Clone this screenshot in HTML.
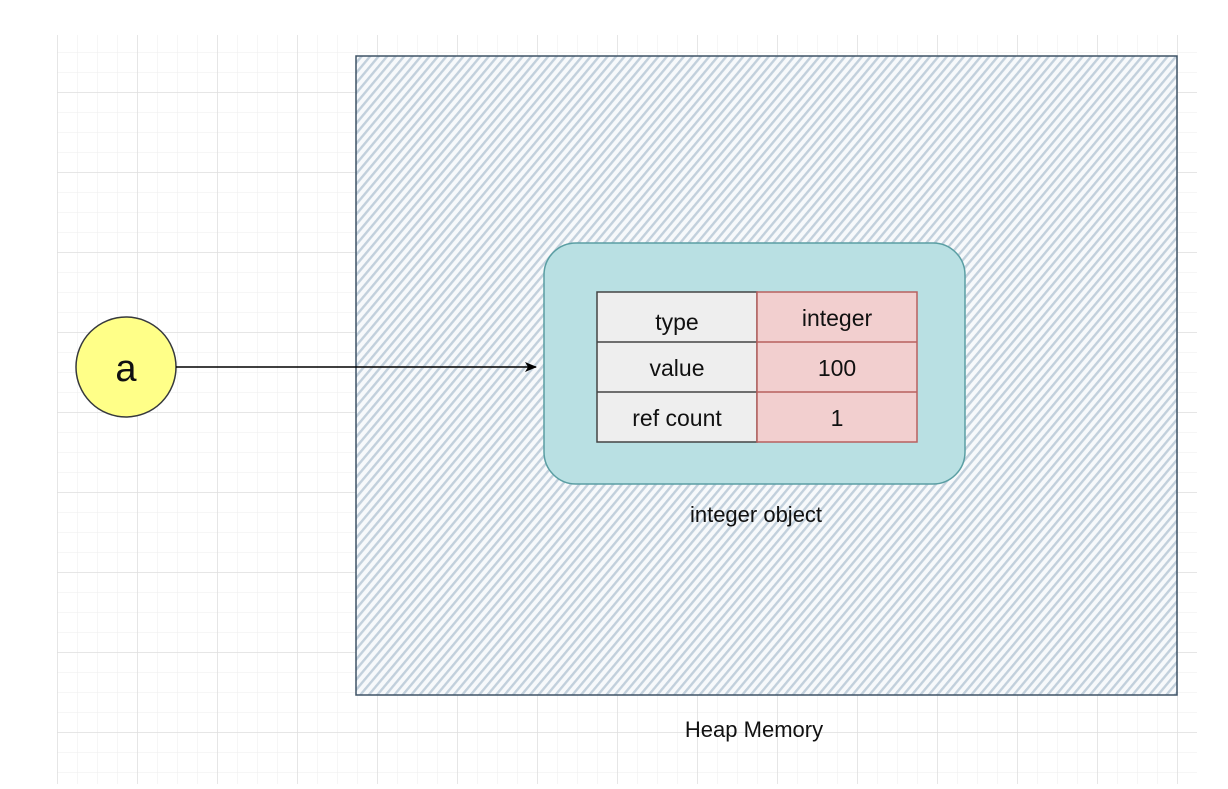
<!DOCTYPE html>
<html><head><style>
body{margin:0;width:1228px;height:784px;background:#fff;overflow:hidden;font-family:"Liberation Sans",sans-serif}
</style></head><body>
<svg width="1228" height="784" xmlns="http://www.w3.org/2000/svg">
<defs>
<pattern id="mg" x="57" y="12" width="20" height="20" patternUnits="userSpaceOnUse">
<path d="M0 0H20M0 0V20" stroke="#ededed" stroke-width="1" fill="none"/>
</pattern>
<pattern id="Mg" x="57" y="12" width="80" height="80" patternUnits="userSpaceOnUse">
<path d="M0 0H80M0 0V80" stroke="#dedede" stroke-width="1.5" fill="none"/>
</pattern>
<pattern id="h" width="6.5" height="6.5" patternUnits="userSpaceOnUse" patternTransform="rotate(40)">
<rect width="6.5" height="6.5" fill="#f7f9fb"/>
<rect width="2.4" height="6.5" fill="#c2d0dc"/>
</pattern>
<marker id="ar" markerWidth="12" markerHeight="10" refX="11" refY="5" orient="auto" markerUnits="userSpaceOnUse">
<path d="M0 0L12 5L0 10L3 5Z" fill="#000"/>
</marker>
</defs>
<rect x="57" y="35" width="1140" height="749" fill="url(#mg)"/>
<rect x="57" y="35" width="1140" height="749" fill="url(#Mg)"/>
<rect x="356" y="56" width="821" height="639" fill="url(#h)" stroke="#3f5366" stroke-width="1.5"/>
<rect x="544" y="243" width="421" height="241" rx="32" fill="#b9e0e3" stroke="#5a9ea3" stroke-width="1.5"/>
<g stroke-width="1.5">
<rect x="597" y="292" width="160" height="150" fill="#eeeeee" stroke="#444"/>
<line x1="597" y1="342" x2="757" y2="342" stroke="#444"/>
<line x1="597" y1="392" x2="757" y2="392" stroke="#444"/>
<rect x="757" y="292" width="160" height="150" fill="#f2cfcf" stroke="#b8605f"/>
<line x1="757" y1="342" x2="917" y2="342" stroke="#b8605f"/>
<line x1="757" y1="392" x2="917" y2="392" stroke="#b8605f"/>
</g>
<g font-size="23" text-anchor="middle" fill="#111">
<text x="677" y="330">type</text>
<text x="837" y="326">integer</text>
<text x="677" y="376">value</text>
<text x="837" y="376">100</text>
<text x="677" y="426">ref count</text>
<text x="837" y="426">1</text>
</g>
<text x="756" y="522" font-size="22" text-anchor="middle" fill="#111">integer object</text>
<text x="754" y="737" font-size="22" text-anchor="middle" fill="#111">Heap Memory</text>
<circle cx="126" cy="367" r="50" fill="#ffff88" stroke="#36393d" stroke-width="1.5"/>
<text x="126" y="381" font-size="38" text-anchor="middle" fill="#111">a</text>
<line x1="176" y1="367" x2="536" y2="367" stroke="#000" stroke-width="1.5" marker-end="url(#ar)"/>
</svg>
</body></html>
